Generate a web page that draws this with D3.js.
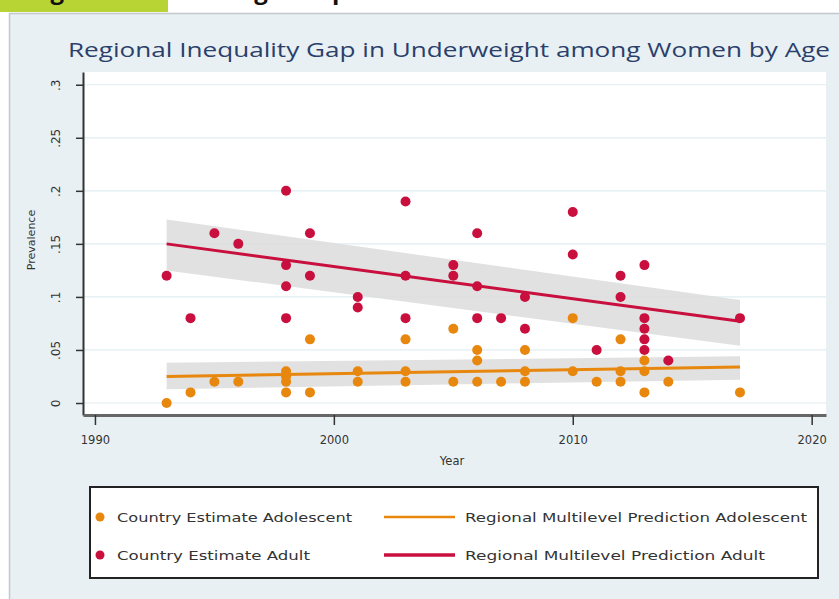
<!DOCTYPE html>
<html>
<head>
<meta charset="utf-8">
<script src="https://cdn.jsdelivr.net/npm/d3@7"></script>
<style>
  body { margin: 0; background: #fff; }
  svg { display: block; }
  .axis text { font-family: "DejaVu Sans", sans-serif; fill: #333; }
</style>
</head>
<body>
<svg class="chart" width="839" height="599"></svg>
<script>
// ---- data ----
const adultYears = [1993, 1994, 1995, 1996, 1998, 1998, 1998, 1998, 1999, 1999, 2001, 2001,
  2003, 2003, 2003, 2005, 2005, 2006, 2006, 2006, 2007, 2008, 2008, 2010, 2010, 2011,
  2012, 2012, 2013, 2013, 2013, 2013, 2013, 2014, 2017];
const adultValues = [0.12, 0.08, 0.16, 0.15, 0.20, 0.13, 0.11, 0.08, 0.16, 0.12, 0.10, 0.09,
  0.19, 0.12, 0.08, 0.13, 0.12, 0.16, 0.11, 0.08, 0.08, 0.10, 0.07, 0.18, 0.14, 0.05,
  0.12, 0.10, 0.13, 0.08, 0.07, 0.06, 0.05, 0.04, 0.08];

const adolYears = [1993, 1994, 1995, 1996, 1998, 1998, 1998, 1998, 1999, 1999, 2001, 2001,
  2003, 2003, 2003, 2005, 2005, 2006, 2006, 2006, 2007, 2008, 2008, 2008, 2010, 2010,
  2011, 2012, 2012, 2012, 2013, 2013, 2013, 2014, 2017];
const adolValues = [0.00, 0.01, 0.02, 0.02, 0.03, 0.025, 0.02, 0.01, 0.06, 0.01, 0.03, 0.02,
  0.06, 0.03, 0.02, 0.07, 0.02, 0.05, 0.04, 0.02, 0.02, 0.05, 0.03, 0.02, 0.08, 0.03,
  0.02, 0.06, 0.03, 0.02, 0.04, 0.03, 0.01, 0.02, 0.01];

// fitted lines and confidence bands (ends at first and last year)
const fitYears = [1993, 2017];
const adultFit = [0.150, 0.077];
const adultLower = [0.125, 0.054];
const adultUpper = [0.173, 0.097];
const adolFit = [0.025, 0.034];
const adolLower = [0.013, 0.022];
const adolUpper = [0.038, 0.044];

const yTicks = [0, 0.05, 0.1, 0.15, 0.2, 0.25, 0.3];
const yTickLabels = ["0", ".05", ".1", ".15", ".2", ".25", ".3"];
const xTicks = [1990, 2000, 2010, 2020];

const legendLabels = ["Country Estimate Adolescent", "Regional Multilevel Prediction Adolescent",
  "Country Estimate Adult", "Regional Multilevel Prediction Adult"];

const orange = "#e8870d";
const crimson = "#c80f3e";

// ---- layout ----
const svg = d3.select(".chart");
const plot = { left: 83, right: 826, top: 72, bottom: 415 };

const x = d3.scaleLinear().domain([1989.5, 2020.6]).range([plot.left, plot.right]);
const y = d3.scaleLinear().domain([-0.0113, 0.312]).range([plot.bottom, plot.top]);

// page header above the panel (only its lowest part is in view)
svg.append("rect").attr("x", 0).attr("y", 0).attr("width", 168).attr("height", 12).attr("fill", "#b8d334");
svg.append("text")
  .attr("x", 30).attr("y", -1)
  .attr("font-family", "Open Sans, sans-serif").attr("font-weight", "bold").attr("font-size", 24)
  .attr("fill", "#111")
  .text("Figure 6:        Underweight Gap between Adolescent and Adult Women");

// panel
svg.append("rect")
  .attr("x", 9.5).attr("y", 13.5).attr("width", 840).attr("height", 600)
  .attr("fill", "#e8f0f3").attr("stroke", "#c4c8ca").attr("stroke-width", 1.5);

svg.append("text")
  .attr("x", 68).attr("y", 57)
  .attr("font-family", "Open Sans, sans-serif").attr("font-size", 19.5)
  .attr("fill", "#2b3f6b")
  .attr("textLength", 762).attr("lengthAdjust", "spacingAndGlyphs")
  .text("Regional Inequality Gap in Underweight among Women by Age");

// plot area
svg.append("rect")
  .attr("x", plot.left).attr("y", plot.top)
  .attr("width", plot.right - plot.left).attr("height", plot.bottom - plot.top)
  .attr("fill", "#fff");

svg.append("g")
  .selectAll("line")
  .data(yTicks)
  .join("line")
  .attr("x1", plot.left).attr("x2", plot.right)
  .attr("y1", d => y(d)).attr("y2", d => y(d))
  .attr("stroke", "#e1eef2").attr("stroke-width", 1.2);

// confidence bands
function band(lower, upper) {
  const pts = fitYears.map((yr, i) => [x(yr), y(upper[i])])
    .concat(fitYears.map((yr, i) => [x(yr), y(lower[i])]).reverse());
  return "M" + pts.join("L") + "Z";
}
svg.append("path").attr("d", band(adultLower, adultUpper)).attr("fill", "#dcdcdc").attr("opacity", 0.85);
svg.append("path").attr("d", band(adolLower, adolUpper)).attr("fill", "#dcdcdc").attr("opacity", 0.85);

// points
svg.append("g")
  .selectAll("circle")
  .data(adultYears.map((yr, i) => [yr, adultValues[i]]))
  .join("circle")
  .attr("cx", d => x(d[0])).attr("cy", d => y(d[1])).attr("r", 5)
  .attr("fill", crimson);

svg.append("g")
  .selectAll("circle")
  .data(adolYears.map((yr, i) => [yr, adolValues[i]]))
  .join("circle")
  .attr("cx", d => x(d[0])).attr("cy", d => y(d[1])).attr("r", 5)
  .attr("fill", orange);

// fitted lines
const line = d3.line().x(d => x(d[0])).y(d => y(d[1]));
svg.append("path")
  .datum(fitYears.map((yr, i) => [yr, adultFit[i]]))
  .attr("d", line).attr("fill", "none").attr("stroke", crimson).attr("stroke-width", 3);
svg.append("path")
  .datum(fitYears.map((yr, i) => [yr, adolFit[i]]))
  .attr("d", line).attr("fill", "none").attr("stroke", orange).attr("stroke-width", 3);

// axes
const yAxis = svg.append("g")
  .attr("class", "axis")
  .attr("transform", "translate(" + plot.left + ",0)")
  .call(d3.axisLeft(y).tickValues(yTicks).tickFormat((d, i) => yTickLabels[i]).tickSize(7).tickSizeOuter(0));
yAxis.select(".domain").attr("stroke", "#333").attr("stroke-width", 2);
yAxis.selectAll(".tick line").attr("stroke", "#333").attr("stroke-width", 1.5);
yAxis.selectAll(".tick text")
  .attr("transform", "rotate(-90)")
  .attr("x", 0).attr("y", -23).attr("dy", 0)
  .attr("text-anchor", "middle")
  .attr("font-size", 12);

const xAxis = svg.append("g")
  .attr("class", "axis")
  .attr("transform", "translate(0," + plot.bottom + ")")
  .call(d3.axisBottom(x).tickValues(xTicks).tickFormat(d3.format("d")).tickSize(10).tickPadding(11).tickSizeOuter(0));
xAxis.select(".domain").attr("stroke", "#666").attr("stroke-width", 3);
xAxis.selectAll(".tick line").attr("stroke", "#333").attr("stroke-width", 1.5);
xAxis.selectAll(".tick text").attr("font-size", 11.5);

svg.append("text")
  .attr("transform", "translate(35,240) rotate(-90)")
  .attr("text-anchor", "middle")
  .attr("font-family", "DejaVu Sans, sans-serif").attr("font-size", 11).attr("fill", "#333")
  .text("Prevalence");

svg.append("text")
  .attr("x", 452).attr("y", 465)
  .attr("text-anchor", "middle")
  .attr("font-family", "DejaVu Sans, sans-serif").attr("font-size", 11.5).attr("fill", "#333")
  .text("Year");

// legend
const legend = svg.append("g");
legend.append("rect")
  .attr("x", 90).attr("y", 487).attr("width", 728).attr("height", 91)
  .attr("fill", "#fff").attr("stroke", "#222").attr("stroke-width", 2);

const rows = [517, 555];
const leftLen = [235, 193];
const rightLen = [342, 300];
[orange, crimson].forEach((c, i) => {
  legend.append("circle").attr("cx", 100).attr("cy", rows[i]).attr("r", 4.5).attr("fill", c);
  legend.append("text")
    .attr("x", 117).attr("y", rows[i] + 4.5)
    .attr("font-family", "DejaVu Sans, sans-serif").attr("font-size", 12.5).attr("fill", "#333")
    .attr("textLength", leftLen[i]).attr("lengthAdjust", "spacingAndGlyphs")
    .text(legendLabels[i * 2]);
  legend.append("line")
    .attr("x1", 384).attr("x2", 455).attr("y1", rows[i]).attr("y2", rows[i])
    .attr("stroke", c).attr("stroke-width", i === 0 ? 2.5 : 3.5);
  legend.append("text")
    .attr("x", 465).attr("y", rows[i] + 4.5)
    .attr("font-family", "DejaVu Sans, sans-serif").attr("font-size", 12.5).attr("fill", "#333")
    .attr("textLength", rightLen[i]).attr("lengthAdjust", "spacingAndGlyphs")
    .text(legendLabels[i * 2 + 1]);
});
</script>
</body>
</html>
